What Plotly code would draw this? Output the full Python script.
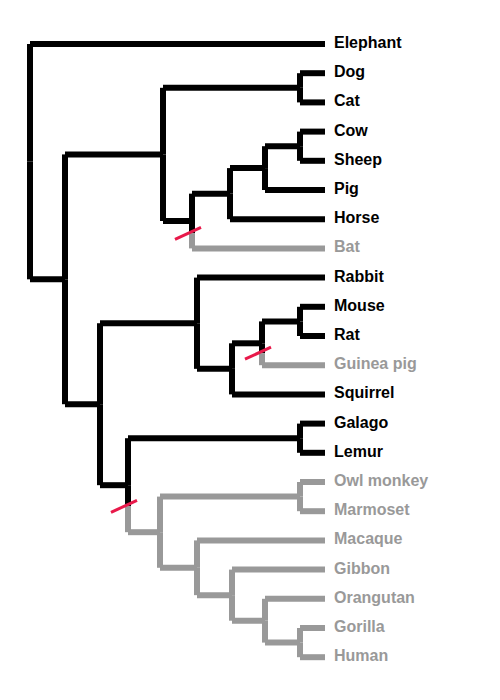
import plotly.graph_objects as go

leaves = ["Elephant", "Dog", "Cat", "Cow", "Sheep", "Pig", "Horse", "Bat", "Rabbit",
          "Mouse", "Rat", "Guinea pig", "Squirrel", "Galago", "Lemur", "Owl monkey",
          "Marmoset", "Macaque", "Gibbon", "Orangutan", "Gorilla", "Human"]
gray_leaves = ["Bat", "Guinea pig", "Owl monkey", "Marmoset", "Macaque", "Gibbon",
               "Orangutan", "Gorilla", "Human"]
# node depth (x) and children
tree = (30, ["Elephant",
    (65, [
        (163, [(300, ["Dog", "Cat"]),
               (192, [(230, [(265, [(300, ["Cow", "Sheep"]), "Pig"]), "Horse"]), "Bat"])]),
        (100, [
            (197, ["Rabbit", (232, [(262, [(300, ["Mouse", "Rat"]), "Guinea pig"]), "Squirrel"])]),
            (128, [(300, ["Galago", "Lemur"]),
                   (160, [(300, ["Owl monkey", "Marmoset"]),
                          (197, ["Macaque", (232, ["Gibbon", (265, ["Orangutan", (300, ["Gorilla", "Human"])])])])])])
        ])
    ])
])

LEAF_X, Y0, DY = 325, 42, 29.2
BLACK, GRAY, RED = "#000000", "#999999", "#e8194a"
segs = {BLACK: ([], []), GRAY: ([], []), RED: ([], [])}
marks = []

def all_gray(n):
    if isinstance(n, str):
        return n in gray_leaves
    return all(all_gray(c) for c in n[1])

def add(col, x0, y0, x1, y1):
    xs, ys = segs[col]
    xs += [x0, x1, None]; ys += [y0, y1, None]

def layout(n):
    if isinstance(n, str):
        return LEAF_X, Y0 + leaves.index(n) * DY
    x, ch = n
    pos = [layout(c) for c in ch]
    y = sum(p[1] for p in pos) / len(pos)
    for c, (cx, cy) in zip(ch, pos):
        col = GRAY if all_gray(c) else BLACK
        if col == GRAY and not all_gray(n):
            ym = y + (cy - y) * 0.45
            add(BLACK, x, y, x, ym); add(GRAY, x, ym, x, cy)
            marks.append((x - 4, ym))
        else:
            add(col, x, y, x, cy)
        add(col, x, cy, cx, cy)
    return x, y

layout(tree)
for mx, my in marks:
    add(RED, mx - 13, my + 6, mx + 13, my - 6)

fig = go.Figure()
for col, w in [(BLACK, 6), (GRAY, 6), (RED, 3)]:
    fig.add_trace(go.Scatter(x=segs[col][0], y=segs[col][1], mode="lines",
                             line=dict(color=col, width=w), hoverinfo="skip"))
fig.add_trace(go.Scatter(
    x=[LEAF_X + 9] * len(leaves), y=[Y0 + i * DY for i in range(len(leaves))],
    mode="text", text=leaves, textposition="middle right",
    textfont=dict(family="Liberation Sans", size=16,
                  color=[GRAY if l in gray_leaves else BLACK for l in leaves],
                  weight="bold"),
    hoverinfo="skip"))
fig.update_layout(width=500, height=700, margin=dict(l=0, r=0, t=0, b=0),
                  plot_bgcolor="white", paper_bgcolor="white", showlegend=False,
                  xaxis=dict(range=[8, 508], visible=False),
                  yaxis=dict(range=[706, 6], visible=False))
fig.write_html("out.html")
